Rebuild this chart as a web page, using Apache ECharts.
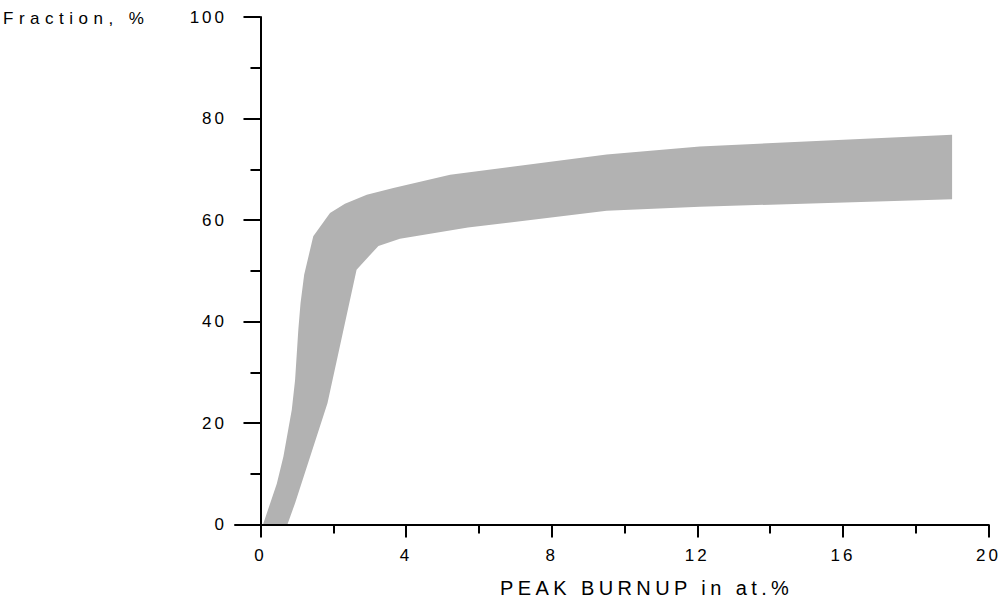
<!DOCTYPE html>
<html>
<head>
<meta charset="utf-8">
<script src="https://cdn.jsdelivr.net/npm/echarts@6/dist/echarts.min.js"></script>
<style>
html,body{margin:0;padding:0;background:#fff;}
#chart{width:1005px;height:601px;}
#chart svg text{letter-spacing:3px;}
</style>
</head>
<body>
<div id="chart"></div>
<script>
// Band upper boundary (PEAK BURNUP at.%, Fraction %)
var upperX = [0.07, 0.45, 0.63, 0.86, 0.95, 1.04, 1.10, 1.20, 1.45, 1.91, 2.32, 2.92, 3.65, 5.21, 9.51, 12.07, 19.0];
var upperY = [0, 8.1, 13.4, 22.6, 28.4, 38.4, 43.6, 49.2, 56.8, 61.4, 63.2, 65.0, 66.3, 68.9, 72.9, 74.5, 76.8];
// Band lower boundary
var lowerX = [0.74, 0.95, 1.84, 2.64, 3.24, 3.83, 5.7, 9.51, 12.07, 19.0];
var lowerY = [0, 4.2, 23.9, 50.2, 54.9, 56.3, 58.5, 61.8, 62.6, 64.1];

var xLabelValues = [0, 4, 8, 12, 16, 20];
var xMinorValues = [2, 6, 10, 14, 18];
var yTitle = 'Fraction, %';
var xTitle = 'PEAK BURNUP in at.%';

var chart = echarts.init(document.getElementById('chart'), null, {renderer: 'svg'});
var black = '#000';
var font = 'Liberation Sans';

var option = {
  animation: false,
  backgroundColor: '#fff',
  title: [
    {text: yTitle, left: 3, top: 10, padding: 0,
     textStyle: {fontFamily: font, fontSize: 17, fontWeight: 'normal', color: black}},
    {text: xTitle, left: 500, top: 578, padding: 0,
     textStyle: {fontFamily: font, fontSize: 20, fontWeight: 'normal', color: black}}
  ],
  grid: {left: 235, right: 16.5, top: 17, bottom: 76.5, containLabel: false},
  xAxis: [{
    type: 'value', min: -0.7, max: 20, z: 5,
    axisLine: {show: true, onZero: false, lineStyle: {color: black, width: 2}},
    axisTick: {show: true, customValues: xLabelValues, length: 13, lineStyle: {color: black, width: 2}},
    axisLabel: {customValues: xLabelValues, margin: 22, fontSize: 17, fontFamily: font, color: black},
    splitLine: {show: false}
  }, {
    type: 'value', min: -0.7, max: 20, position: 'bottom', z: 5,
    axisLine: {show: false},
    axisTick: {show: true, customValues: xMinorValues, length: 9, lineStyle: {color: black, width: 2}},
    axisLabel: {show: false},
    splitLine: {show: false}
  }],
  yAxis: {
    type: 'value', min: 0, max: 100, interval: 20, z: 5,
    axisLine: {show: true, onZero: true, onZeroAxisIndex: 0, lineStyle: {color: black, width: 2}},
    axisTick: {show: true, length: 17, lineStyle: {color: black, width: 2}},
    minorTick: {show: true, splitNumber: 2, length: 10, lineStyle: {color: black, width: 2}},
    axisLabel: {margin: 8, fontSize: 17, fontFamily: font, color: black},
    splitLine: {show: false}
  },
  series: [{
    type: 'custom',
    xAxisIndex: 0,
    yAxisIndex: 0,
    z: 1,
    data: [[upperX[0], upperY[0]]],
    renderItem: function (params, api) {
      var pts = [];
      for (var i = 0; i < upperX.length; i++) pts.push(api.coord([upperX[i], upperY[i]]));
      for (var j = lowerX.length - 1; j >= 0; j--) pts.push(api.coord([lowerX[j], lowerY[j]]));
      return {type: 'polygon', shape: {points: pts}, style: {fill: '#b2b2b2', stroke: null}};
    }
  }]
};
chart.setOption(option);

function spaceTitles() {
  var texts = document.querySelectorAll('#chart svg text');
  texts.forEach(function (t) {
    var s = t.textContent;
    if (s === yTitle) t.style.letterSpacing = '5.5px';
    else if (s === xTitle) t.style.letterSpacing = '4.4px';
  });
}
spaceTitles();
chart.on('finished', spaceTitles);
</script>
</body>
</html>
